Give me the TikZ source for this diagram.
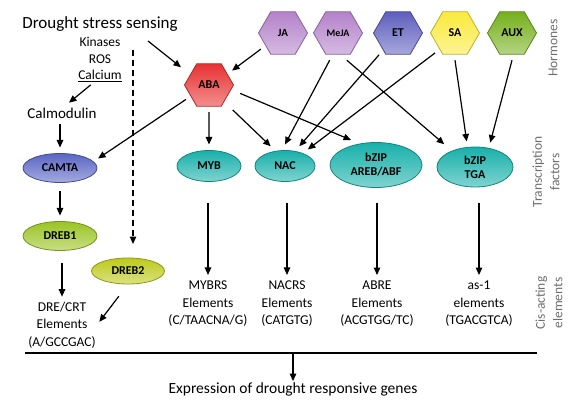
\documentclass[tikz,border=0pt]{standalone}
\usepackage{fontspec}
\setmainfont{Carlito}
\usetikzlibrary{shapes.geometric,arrows.meta}

\definecolor{abaC}{RGB}{232,50,50}
\definecolor{jaC}{RGB}{180,130,202}
\definecolor{etC}{RGB}{95,95,190}
\definecolor{saC}{RGB}{250,234,60}
\definecolor{auxC}{RGB}{118,176,28}
\definecolor{camtaC}{RGB}{90,102,196}
\definecolor{drebaC}{RGB}{155,196,36}
\definecolor{drebbC}{RGB}{188,202,28}
\definecolor{tfC}{RGB}{24,176,170}
\definecolor{sideC}{RGB}{110,110,110}

\begin{document}
\begin{tikzpicture}[x=1pt, y=-1pt, >={Triangle[length=7.5pt,width=6.5pt]},
  hormone/.style={regular polygon, regular polygon sides=6, minimum size=49pt,
    inner sep=0pt, outer sep=6pt, line width=0.8pt, draw=#1!75!black,
    top color=#1, middle color=#1, bottom color=#1!55!white,
    font=\bfseries\fontsize{12}{12}\selectfont},
  hormone JA/.style={font=\bfseries\fontsize{11}{11}\selectfont},
  hormone MeJA/.style={font=\bfseries\fontsize{10}{10}\selectfont},
  factor/.style={ellipse, inner sep=0pt, outer sep=6pt, line width=0.8pt,
    draw=#1!75!black, top color=#1, middle color=#1, bottom color=#1!55!white,
    align=center, font=\bfseries\fontsize{12}{14}\selectfont},
  txt/.style={align=center, inner sep=1pt, font=\fontsize{13.5}{17.5}\selectfont},
  side/.style={txt, rotate=90, text=sideC},
  link/.style={->, line width=1.2pt}]

\useasboundingbox (0,0) rectangle (588,403);

% hormones
\foreach \h/\x/\c in {JA/283/jaC, MeJA/338/jaC, ET/398/etC, SA/455/saC, AUX/512/auxC}
  \node [hormone=\c, hormone \h/.try] (\h) at (\x,33) {\h};
\node [hormone=abaC] (ABA) at (209,85) {ABA};

% sensing
\node [txt, font=\fontsize{17}{17}\selectfont] (drought) at (100,24) {Drought stress sensing};
\node [txt] (kin) at (100,42) {Kinases};
\node [txt] (ros) at (100,59) {ROS};
\node [txt] (calc) at (100,76) {\underline{Calcium}};
\node [txt, font=\fontsize{15}{15}\selectfont] (calm) at (62,113) {Calmodulin};
\coordinate (sense) at (148,41);
\coordinate (dashtop) at (133,50);

% transcription factors
\node [factor=camtaC, minimum width=74pt, minimum height=29pt] (CAMTA) at (60,168) {CAMTA};
\node [factor=drebaC, minimum width=74pt, minimum height=29pt] (DREB1) at (60,236) {DREB1};
\node [factor=drebbC, minimum width=73pt, minimum height=26pt] (DREB2) at (128,271) {DREB2};
\node [factor=tfC, minimum width=64pt, minimum height=31pt] (MYB) at (209,166) {MYB};
\node [factor=tfC, minimum width=60pt, minimum height=31pt] (NAC) at (285,166) {NAC};
\node [factor=tfC, minimum width=92pt, minimum height=45pt] (AREB) at (376,165) {bZIP\\AREB/ABF};
\node [factor=tfC, minimum width=76pt, minimum height=40pt] (TGA) at (475,167) {bZIP\\TGA};

% cis-acting elements
\node [txt] (dre) at (62,325) {DRE/CRT\\Elements\\(A/GCCGAC)};
\node [txt] (mybrs) at (208,304) {MYBRS\\Elements\\(C/TAACNA/G)};
\node [txt] (nacrs) at (287,304) {NACRS\\Elements\\(CATGTG)};
\node [txt] (abre) at (377,304) {ABRE\\Elements\\(ACGTGG/TC)};
\node [txt] (asone) at (479,304) {as-1\\elements\\(TGACGTCA)};

\coordinate (barL) at (25,353);
\coordinate (barR) at (537,353);
\node [txt, font=\fontsize{15.5}{15.5}\selectfont] (expr) at (293,389) {Expression of drought responsive genes};

% side labels
\node [side] (hormones) at (553,48) {Hormones};
\node [side] (factors) at (546,172) {Transcription\\factors};
\node [side] (elements) at (549,303) {Cis-acting\\elements};

% connectors
\draw [link, shorten >=6pt] (sense) -- (ABA.149);
\draw [link] (JA.216) -- (ABA.32);
\draw [link, shorten <=3pt, shorten >=6pt] (calc.225) -- (calm.70);
\draw [link, shorten <=5pt] (CAMTA.north |- calm.south) -- (CAMTA.north);
\draw [link] (ABA.212) -- (CAMTA.14);
\draw [link] (ABA.south) -- (MYB.north);
\draw [link, shorten <=6pt] (ABA.313) -- (NAC.126);
\draw [link, shorten <=4pt] (ABA.346) -- (AREB.135);
\draw [link] (MeJA.253) -- (NAC.north);
\draw [link, shorten >=4pt] (MeJA.288) -- (TGA.144);
\draw [link] (ET.229) -- (NAC.54);
\draw [link] (SA.225) -- (NAC.36);
\draw [link] (SA.south) -- (TGA.108);
\draw [link] (AUX.south) -- (TGA.58);
\draw [link, shorten <=3pt] (CAMTA.south) -- (DREB1.north);
\draw [link, shorten <=6pt, shorten >=4pt] (dre.north |- DREB1.south) -- (dre.north);
\draw [link, shorten <=8pt, shorten >=4pt] (DREB2.257) -- (dre.east);
\draw [link, dash pattern=on 6pt off 4pt, shorten >=8pt] (dashtop) -- (dashtop |- DREB2.north);

\foreach \t/\e/\s in {MYB/mybrs/15.5, NAC/nacrs/15.5, AREB/abre/9.5, TGA/asone/10}
  \draw [link, shorten <=\s pt, shorten >=5pt] (\e.north |- \t.south) -- (\e.north);

\draw [line width=1.2pt] (barL) -- (barR);
\draw [link] (expr.north |- barL) -- (expr.north);

\end{tikzpicture}
\end{document}
